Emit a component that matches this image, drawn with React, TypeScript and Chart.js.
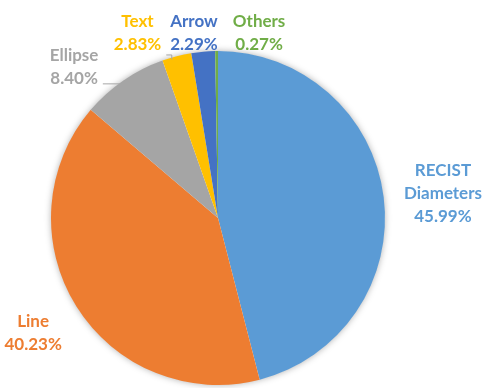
import React, { useEffect, useRef } from "react";
import { Chart, registerables } from "chart.js";

Chart.register(...registerables);

const categories = ["RECIST\nDiameters", "Line", "Ellipse", "Text", "Arrow", "Others"];
const values = [45.99, 40.23, 8.4, 2.83, 2.29, 0.27];
const valueLabels = ["45.99%", "40.23%", "8.40%", "2.83%", "2.29%", "0.27%"];
const colors = ["#5B9BD5", "#ED7D31", "#A5A5A5", "#FFC000", "#4472C4", "#70AD47"];

// label anchor offsets, in units of the pie radius, from the pie centre
const labelOffsets: [number, number][] = [
  [1.347, -0.145],
  [-1.107, 0.689],
  [-0.862, -0.905],
  [-0.482, -1.108],
  [-0.144, -1.108],
  [0.246, -1.108],
];

const FONT = "bold 17px Lato, 'Open Sans', sans-serif";
const LINE_H = 23;

const shadowPlugin = {
  id: "pieShadow",
  beforeDatasetsDraw(chart: any) {
    const arc = chart.getDatasetMeta(0).data[0];
    if (!arc) return;
    const ctx = chart.ctx;
    ctx.save();
    ctx.shadowColor = "rgba(0,0,0,0.35)";
    ctx.shadowBlur = 7;
    ctx.fillStyle = "#ffffff";
    ctx.beginPath();
    ctx.arc(arc.x, arc.y, arc.outerRadius - 0.5, 0, Math.PI * 2);
    ctx.fill();
    ctx.restore();
  },
};

const labelPlugin = {
  id: "pieLabels",
  afterDatasetsDraw(chart: any) {
    const meta = chart.getDatasetMeta(0);
    const ctx = chart.ctx;
    const first = meta.data[0];
    const cx = first.x;
    const cy = first.y;
    const r = first.outerRadius;
    ctx.save();
    ctx.font = FONT;
    ctx.textAlign = "center";
    ctx.textBaseline = "middle";
    categories.forEach((cat, i) => {
      const lines = [...cat.split("\n"), valueLabels[i]];
      const lx = cx + labelOffsets[i][0] * r;
      const ly = cy + labelOffsets[i][1] * r;
      ctx.fillStyle = colors[i];
      const top = ly - ((lines.length - 1) * LINE_H) / 2;
      lines.forEach((t, k) => ctx.fillText(t, lx, top + k * LINE_H));
      ctx.strokeStyle = "#A6A6A6";
      ctx.lineWidth = 1;
      if (i === 2) {
        // leader line for Ellipse
        const w = ctx.measureText(valueLabels[i]).width;
        const y = top + LINE_H + 5;
        const x0 = lx + w / 2 + 5;
        const x1 = cx - Math.sqrt(Math.max(0, r * r - (y - cy) * (y - cy)));
        ctx.beginPath();
        ctx.moveTo(x0, y + 0.5);
        ctx.lineTo(x1 + 1, y + 0.5);
        ctx.stroke();
      }
      if (i === 3) {
        // small leader for Text
        const w = ctx.measureText(valueLabels[i]).width;
        const y = top + LINE_H + 10;
        const x0 = lx + w / 2 + 5;
        ctx.beginPath();
        ctx.moveTo(x0, y + 0.5);
        ctx.lineTo(x0 + 5.5, y + 0.5);
        ctx.lineTo(x0 + 5.5, y + 5);
        ctx.stroke();
      }
    });
    ctx.restore();
  },
};

export default function App() {
  const ref = useRef<HTMLCanvasElement | null>(null);
  useEffect(() => {
    if (!ref.current) return;
    const chart = new Chart(ref.current, {
      type: "pie",
      data: {
        labels: categories.map((c) => c.replace("\n", " ")),
        datasets: [
          {
            data: values,
            backgroundColor: colors,
            borderWidth: 0,
          },
        ],
      },
      options: {
        responsive: false,
        animation: false,
        rotation: 0,
        layout: { padding: { left: 51, right: 99, top: 51, bottom: 3 } },
        plugins: {
          legend: { display: false },
          tooltip: { enabled: false },
        },
      },
      plugins: [shadowPlugin, labelPlugin],
    });
    return () => chart.destroy();
  }, []);
  return (
    <div style={{ position: "fixed", left: 0, top: 0, width: 484, height: 388, background: "#fff" }}>
      <canvas ref={ref} width={484} height={388} style={{ width: 484, height: 388 }} />
    </div>
  );
}
